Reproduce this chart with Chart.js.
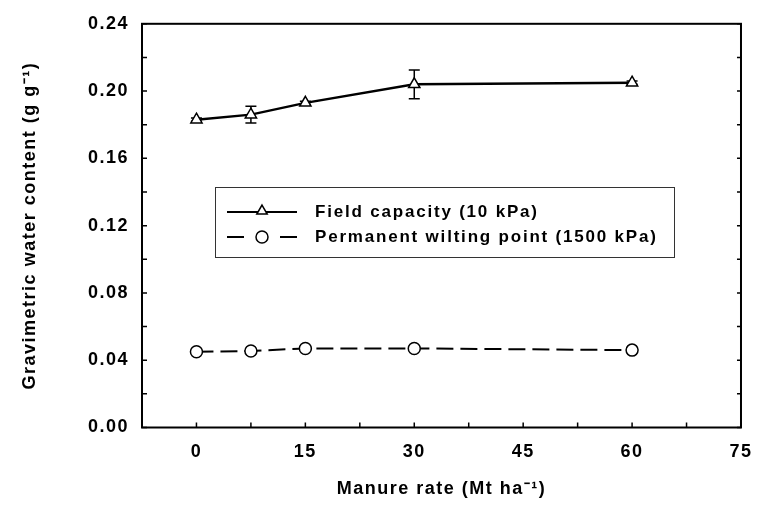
<!DOCTYPE html>
<html lang="en">
<head>
<meta charset="UTF-8">
<title>Gravimetric water content vs manure rate</title>
<script src="https://cdn.jsdelivr.net/npm/chart.js"></script>
<style>
  html, body { margin: 0; padding: 0; background: #fff; }
  #wrap { width: 765px; height: 505px; }
</style>
</head>
<body>
<div id="wrap"><canvas id="chart" width="765" height="505"></canvas></div>
<script>
// values
const manureRates = [0, 7.5, 15, 30, 60];
const fieldCapacity = [0.183, 0.186, 0.193, 0.204, 0.205];
const fieldCapacityErr = [0.001, 0.005, 0.001, 0.0086, 0.001];
const wiltingPoint = [0.045, 0.0455, 0.047, 0.047, 0.046];
const seriesLabels = ['Field capacity (10 kPa)', 'Permanent wilting point (1500 kPa)'];
const xTicks = [0, 15, 30, 45, 60, 75];
const xMinorTicks = [7.5, 22.5, 37.5, 52.5, 67.5];
const yTicks = [0, 0.04, 0.08, 0.12, 0.16, 0.20, 0.24];
const yMinorTicks = [0.02, 0.06, 0.10, 0.14, 0.18, 0.22];

const FONT = '"Liberation Sans", Arial, sans-serif';
const SPACING = '1.5px';

// box, inward ticks, error bars and the legend
const framePlugin = {
    id: 'frame',
    beforeDraw(chart) {
        chart.ctx.letterSpacing = SPACING;
    },
    beforeDatasetsDraw(chart) {
        const ctx = chart.ctx;
        const x = chart.scales.x, y = chart.scales.y;
        ctx.save();
        ctx.strokeStyle = '#000';
        ctx.lineWidth = 1.5;
        manureRates.forEach((r, i) => {
            const px = x.getPixelForValue(r);
            const top = y.getPixelForValue(fieldCapacity[i] + fieldCapacityErr[i]);
            const bot = y.getPixelForValue(fieldCapacity[i] - fieldCapacityErr[i]);
            ctx.beginPath();
            ctx.moveTo(px, top); ctx.lineTo(px, bot);
            ctx.moveTo(px - 5.5, top); ctx.lineTo(px + 5.5, top);
            ctx.moveTo(px - 5.5, bot); ctx.lineTo(px + 5.5, bot);
            ctx.stroke();
        });
        ctx.restore();
    },
    afterDraw(chart) {
        const ctx = chart.ctx;
        const a = chart.chartArea;
        const x = chart.scales.x, y = chart.scales.y;
        ctx.save();
        ctx.strokeStyle = '#000';
        ctx.lineWidth = 2;
        ctx.strokeRect(a.left, a.top, a.right - a.left, a.bottom - a.top);

        ctx.lineWidth = 1.5;
        ctx.beginPath();
        xTicks.concat(xMinorTicks).forEach(v => {
            const px = x.getPixelForValue(v);
            ctx.moveTo(px, a.bottom); ctx.lineTo(px, a.bottom - 5);
        });
        yTicks.concat(yMinorTicks).forEach(v => {
            const py = y.getPixelForValue(v);
            ctx.moveTo(a.left, py); ctx.lineTo(a.left + 5, py);
            ctx.moveTo(a.right, py); ctx.lineTo(a.right - 4, py);
        });
        ctx.stroke();

        // legend box
        const bx = 215, by = 187, bw = 459, bh = 70;
        ctx.fillStyle = '#fff';
        ctx.fillRect(bx, by, bw, bh);
        ctx.lineWidth = 1;
        ctx.strokeStyle = '#333';
        ctx.strokeRect(bx + 0.5, by + 0.5, bw, bh);

        const rows = [212, 237];
        ctx.strokeStyle = '#000';
        // row 1: solid line with triangle
        ctx.lineWidth = 2;
        ctx.beginPath();
        ctx.moveTo(227, rows[0]); ctx.lineTo(297, rows[0]);
        ctx.stroke();
        ctx.lineWidth = 1.5;
        ctx.fillStyle = '#fff';
        Chart.helpers.drawPoint(ctx, { pointStyle: 'triangle', radius: 6, borderWidth: 1.5 }, 262, rows[0] - 1);
        // row 2: dashes with circle
        ctx.lineWidth = 2;
        ctx.beginPath();
        ctx.moveTo(227, rows[1]); ctx.lineTo(244, rows[1]);
        ctx.moveTo(280, rows[1]); ctx.lineTo(297, rows[1]);
        ctx.stroke();
        ctx.lineWidth = 1.5;
        Chart.helpers.drawPoint(ctx, { pointStyle: 'circle', radius: 6, borderWidth: 1.5 }, 262, rows[1]);

        ctx.fillStyle = '#000';
        ctx.font = 'bold 17px ' + FONT;
        ctx.letterSpacing = '1.8px';
        ctx.textBaseline = 'middle';
        ctx.textAlign = 'left';
        ctx.fillText(seriesLabels[0], 315, rows[0]);
        ctx.fillText(seriesLabels[1], 315, rows[1]);
        ctx.restore();
    }
};

const tickFont = { family: FONT, size: 18, weight: 'bold' };
const titleFont = { family: FONT, size: 18, weight: 'bold' };

new Chart(document.getElementById('chart'), {
    type: 'line',
    data: {
        datasets: [
            {
                label: seriesLabels[0],
                data: manureRates.map((r, i) => ({ x: r, y: fieldCapacity[i] })),
                borderColor: '#000',
                borderWidth: 2.5,
                pointStyle: 'triangle',
                pointRadius: 6.5,
                pointBackgroundColor: '#fff',
                pointBorderColor: '#000',
                pointBorderWidth: 1.5,
                tension: 0
            },
            {
                label: seriesLabels[1],
                data: manureRates.map((r, i) => ({ x: r, y: wiltingPoint[i] })),
                borderColor: '#000',
                borderWidth: 2,
                borderDash: [17, 7],
                pointStyle: 'circle',
                pointRadius: 6,
                pointBackgroundColor: '#fff',
                pointBorderColor: '#000',
                pointBorderWidth: 1.5,
                tension: 0
            }
        ]
    },
    options: {
        responsive: false,
        animation: false,
        devicePixelRatio: 1,
        layout: { padding: { top: 23, right: 13, left: 0, bottom: 0 } },
        plugins: {
            legend: { display: false },
            tooltip: { enabled: false }
        },
        scales: {
            x: {
                type: 'linear',
                min: -7.5,
                max: 75,
                afterBuildTicks: s => { s.ticks = xTicks.map(v => ({ value: v })); },
                afterFit: s => { s.height = 77.5; },
                grid: { display: false, drawTicks: false },
                border: { display: false },
                ticks: { color: '#000', font: tickFont, padding: 14, maxRotation: 0, callback: v => String(v) },
                title: {
                    display: true,
                    text: 'Manure rate (Mt ha\u207B\u00B9)',
                    color: '#000',
                    font: titleFont,
                    padding: { top: 0, bottom: 5 }
                }
            },
            y: {
                min: 0,
                max: 0.24,
                afterBuildTicks: s => { s.ticks = yTicks.map(v => ({ value: v })); },
                afterFit: s => { s.width = 142; },
                grid: { display: false, drawTicks: false },
                border: { display: false },
                ticks: { color: '#000', font: tickFont, padding: 13, callback: v => v.toFixed(2) },
                title: {
                    display: true,
                    text: 'Gravimetric water content (g g\u207B\u00B9)',
                    color: '#000',
                    font: titleFont,
                    padding: { top: 19, bottom: 0 }
                }
            }
        }
    },
    plugins: [framePlugin]
});
</script>
</body>
</html>
